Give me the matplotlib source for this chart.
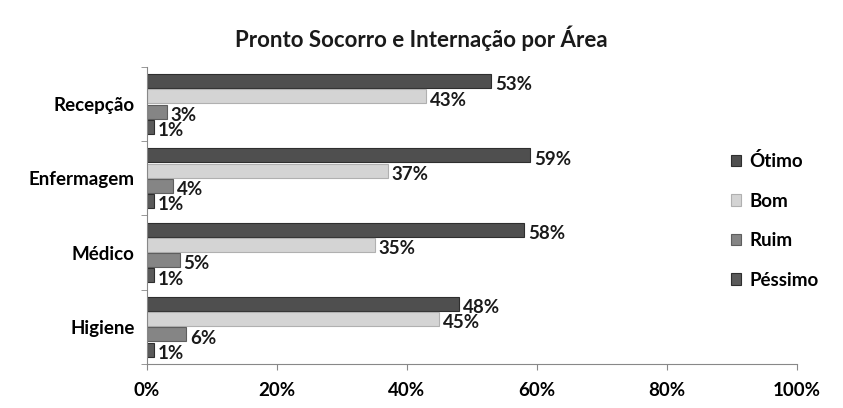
import numpy as np
import matplotlib
matplotlib.use("Agg")
import matplotlib.pyplot as plt
from matplotlib.ticker import FixedLocator

plt.rcParams["font.family"] = ["Lato", "DejaVu Sans"]
plt.rcParams["font.weight"] = "bold"

# ── dados ─────────────────────────────────────
areas = ["Recepção", "Enfermagem", "Médico", "Higiene"]
series = ["Ótimo", "Bom", "Ruim", "Péssimo"]
otimo = [53, 59, 58, 48]
bom = [43, 37, 35, 45]
ruim = [3, 4, 5, 6]
pessimo = [1, 1, 1, 1]
x_ticks = [0, 20, 40, 60, 80, 100]

values = [otimo, bom, ruim, pessimo]
colors = ["#4f4f4f", "#d4d4d4", "#858585", "#5a5a5a"]
edges = ["#2e2e2e", "#b0b0b0", "#5e5e5e", "#2e2e2e"]

fig = plt.figure(figsize=(8.43, 4.08), dpi=100)
ax = fig.add_axes([0.1744, 0.108, 0.771, 0.728])

y = np.arange(len(areas))
h = 0.205
offsets = [-1.5 * h, -0.5 * h, 0.5 * h, 1.5 * h]

for vals, off, c, ec, name in zip(values, offsets, colors, edges, series):
    bars = ax.barh(y + off, vals, height=h * 0.92, color=c, edgecolor=ec,
                   linewidth=0.8, label=name)
    for b, v in zip(bars, vals):
        ax.text(v + 0.6, b.get_y() + b.get_height() / 2 + 0.05, f"{v}%",
                ha="left", va="center", fontsize=13.5, color="#1a1a1a")

ax.set_xlim(0, 100)
ax.set_ylim(3.5, -0.5)
ax.set_xticks(x_ticks)
ax.set_xticklabels([f"{t}%" for t in x_ticks], fontsize=13.5)
ax.set_yticks(y)
ax.set_yticklabels(areas, fontsize=13.5)
ax.tick_params(axis="y", length=0, pad=9)
ax.yaxis.set_minor_locator(FixedLocator([-0.5, 0.5, 1.5, 2.5, 3.5]))
ax.tick_params(axis="y", which="minor", length=4, color="#888888")
ax.tick_params(axis="x", length=4, color="#888888", pad=9)

for side in ["top", "right"]:
    ax.spines[side].set_visible(False)
for side in ["left", "bottom"]:
    ax.spines[side].set_color("#888888")

fig.text(0.5, 0.907, "Pronto Socorro e Internação por Área",
         ha="center", va="center", fontsize=16, color="#1a1a1a")

leg = ax.legend(loc="upper left", bbox_to_anchor=(0.872, 0.77), frameon=False,
                fontsize=13.5, handlelength=0.55, handleheight=0.55,
                handletextpad=0.45, labelspacing=1.2)

fig.savefig("out.png", dpi=100, facecolor="white")
